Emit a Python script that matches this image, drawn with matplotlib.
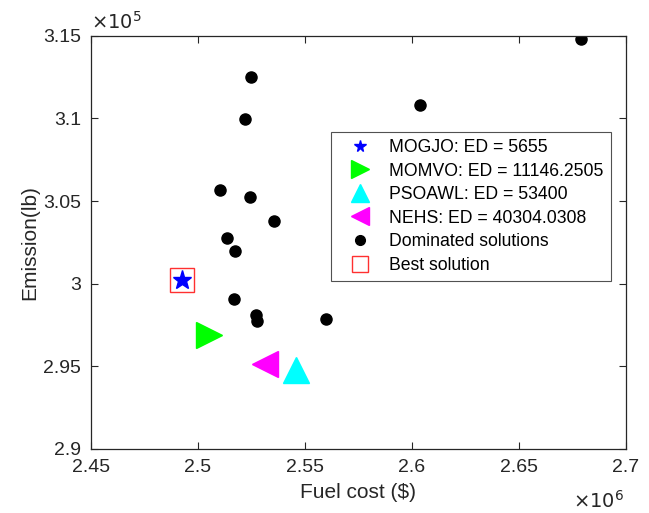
import numpy as np
import matplotlib
matplotlib.use('Agg')
from matplotlib import pyplot as plt
from matplotlib.lines import Line2D
from matplotlib.ticker import FuncFormatter

plt.rcParams['font.family'] = ['Liberation Sans', 'DejaVu Sans']

# dominated solutions (fuel cost $, emission lb)
dom_cost = [2.6791e6, 2.6040e6, 2.5249e6, 2.5222e6, 2.5104e6, 2.5246e6, 2.5355e6,
            2.5138e6, 2.5176e6, 2.5170e6, 2.5272e6, 2.5276e6, 2.5598e6]
dom_emis = [3.1482e5, 3.1081e5, 3.1249e5, 3.0996e5, 3.0565e5, 3.0527e5, 3.0378e5,
            3.0277e5, 3.0198e5, 2.9908e5, 2.9811e5, 2.9777e5, 2.9785e5]

# algorithm solutions
algs = ['MOGJO', 'MOMVO', 'PSOAWL', 'NEHS']
ed = ['5655', '11146.2505', '53400', '40304.0308']
alg_cost = [2.4928e6, 2.5052e6, 2.5461e6, 2.5313e6]
alg_emis = [3.0023e5, 2.9690e5, 2.9480e5, 2.9514e5]
alg_marker = ['*', '>', '^', '<']
alg_color = ['#0000ff', '#00ff00', '#00ffff', '#ff00ff']
alg_ms = [14, 19, 19, 19]

best_cost = 2.4928e6
best_emis = 3.0023e5

fig = plt.figure(figsize=(6.49, 5.13), dpi=100)
ax = fig.add_axes([0.1398, 0.1248, 0.8243, 0.8056])

ax.plot(dom_cost, dom_emis, 'o', color='k', ms=8, ls='none')
for i in range(len(algs)):
    ax.plot(alg_cost[i], alg_emis[i], alg_marker[i], color=alg_color[i],
            ms=alg_ms[i], ls='none', mec=alg_color[i])
ax.plot(best_cost, best_emis, 's', ms=17, mfc='none', mec='#ff3030', mew=1.0)

ax.set_xlim(2.45e6, 2.7e6)
ax.set_ylim(2.9e5, 3.15e5)
ax.set_xticks(np.arange(2.45e6, 2.7e6 + 1, 0.05e6))
ax.set_yticks(np.arange(2.9e5, 3.15e5 + 1, 0.05e5))
ax.xaxis.set_major_formatter(FuncFormatter(lambda v, p: '%g' % round(v / 1e6, 3)))
ax.yaxis.set_major_formatter(FuncFormatter(lambda v, p: '%g' % round(v / 1e5, 3)))
ax.tick_params(direction='in', length=5, width=0.8, top=True, right=True,
               labelsize=14, colors='#262626', labelcolor='#262626')
ax.tick_params(axis='x', pad=7.5)
ax.tick_params(axis='y', pad=7)
for s in ax.spines.values():
    s.set_linewidth(0.9)
    s.set_color('#262626')

ax.set_xlabel('Fuel cost ($)', fontsize=15, color='#262626', labelpad=5)
ax.set_ylabel('Emission(lb)', fontsize=15, color='#262626', labelpad=3)
ax.text(0.0, 1.008, r'$\times10^5$', transform=ax.transAxes, fontsize=14,
        color='#262626', ha='left', va='bottom', math_fontfamily='custom')
ax.text(0.997, -0.098, r'$\times10^6$', transform=ax.transAxes, fontsize=14,
        color='#262626', ha='right', va='top', math_fontfamily='custom')

handles = []
for i in range(len(algs)):
    handles.append(Line2D([], [], marker=alg_marker[i], color=alg_color[i], ls='none',
                          ms=[8.5, 13, 13, 13][i], label=algs[i] + ': ED = ' + ed[i]))
handles.append(Line2D([], [], marker='o', color='k', ls='none', ms=7, label='Dominated solutions'))
handles.append(Line2D([], [], marker='s', mfc='none', mec='#ff3030', ls='none', ms=11.5,
                      label='Best solution'))
leg = ax.legend(handles=handles, loc='upper left', bbox_to_anchor=(0.449, 0.767),
                fontsize=12.7, frameon=True, fancybox=False, labelspacing=0.37,
                handlelength=2.5, handletextpad=0.4, borderpad=0.4, borderaxespad=0)
leg.get_frame().set_edgecolor('#262626')
leg.get_frame().set_linewidth(0.8)

plt.savefig('out.png', dpi=100)
